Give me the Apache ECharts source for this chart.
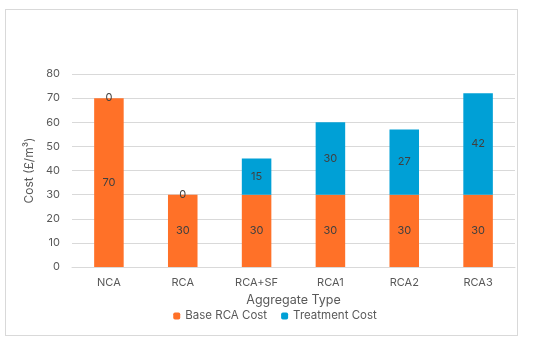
<!DOCTYPE html>
<html><head><meta charset="utf-8">
<script src="https://cdn.jsdelivr.net/npm/echarts@6/dist/echarts.min.js"></script>
<style>html,body{margin:0;padding:0;background:#fff}#c{width:550px;height:344px}
#frame{position:absolute;left:5px;top:9px;width:513px;height:327px;border:1px solid #d9d9d9;box-sizing:border-box;pointer-events:none}</style>
</head><body><div id="c"></div><div id="frame"></div>
<script>
var categories = ['NCA','RCA','RCA+SF','RCA1','RCA2','RCA3'];
var baseCost = [70,30,30,30,30,30];
var treatmentCost = [0,0,15,30,27,42];
var yTicks = [0,10,20,30,40,50,60,70,80];
var font = 'Inter';
var chart = echarts.init(document.getElementById('c'));
var lbl = {show:true, position:'inside', color:'#404040', fontSize:11, fontFamily:font};
chart.setOption({
  animation:false,
  grid:{left:72, right:35, top:74, bottom:77},
  legend:{bottom:17, left:'center', itemWidth:7, itemHeight:7, itemGap:14,
    textStyle:{color:'#595959', fontSize:11.5, fontFamily:font},
    data:['Base RCA Cost','Treatment Cost']},
  xAxis:{type:'category', data:categories,
    name:'Aggregate Type', nameLocation:'middle', nameGap:27,
    nameTextStyle:{color:'#595959', fontSize:12.5, fontFamily:font},
    axisLine:{lineStyle:{color:'#d9d9d9'}}, axisTick:{show:false},
    axisLabel:{color:'#595959', fontSize:11, fontFamily:font, margin:10}},
  yAxis:{type:'value', min:yTicks[0], max:yTicks[yTicks.length-1], interval:10,
    name:'Cost (£/m³)', nameLocation:'middle', nameGap:30,
    nameTextStyle:{color:'#595959', fontSize:12, fontFamily:font},
    axisLine:{show:false}, axisTick:{show:false},
    splitLine:{lineStyle:{color:'#d9d9d9'}},
    axisLabel:{color:'#595959', fontSize:11, fontFamily:font, margin:12}},
  series:[
    {name:'Base RCA Cost', type:'bar', stack:'s', data:baseCost, barWidth:'40%',
      itemStyle:{color:'#FF7128'}, label:lbl},
    {name:'Treatment Cost', type:'bar', stack:'s', data:treatmentCost, barWidth:'40%',
      itemStyle:{color:'#00A0D6'}, label:lbl}
  ]
});
</script></body></html>
